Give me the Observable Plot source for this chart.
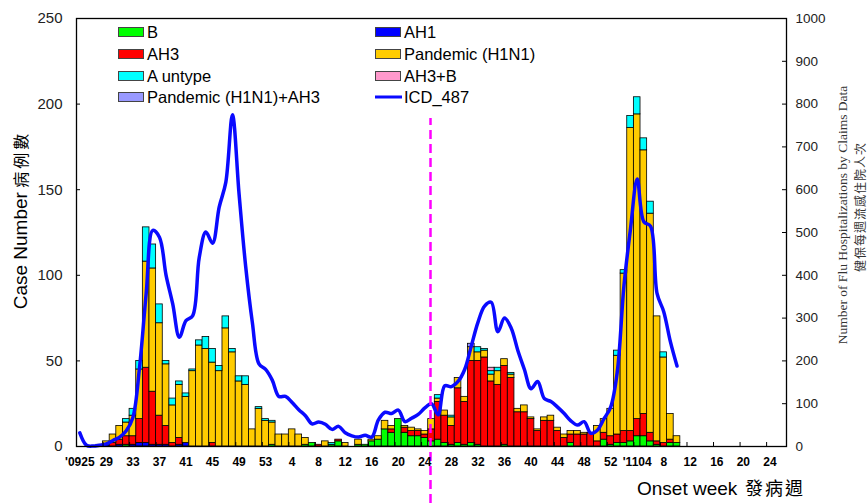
<!DOCTYPE html>
<html><head><meta charset="utf-8">
<script src="https://cdn.jsdelivr.net/npm/d3@7"></script>
<script src="https://cdn.jsdelivr.net/npm/@observablehq/plot@0.6"></script>
<style>
body{margin:0;background:#fff;}
#wrap{position:relative;width:867px;height:503px;overflow:hidden;font-family:"Liberation Sans",Arial,sans-serif;color:#000;}
#wrap svg{position:absolute;left:0;top:0;}
.lg{position:absolute;font-size:16.5px;line-height:16px;white-space:nowrap;transform:translateY(-50%);}
.sw{position:absolute;width:24px;height:8px;border:1px solid #444;transform:translateY(-50%);}
.ln{position:absolute;width:27px;height:3px;background:#0a0aff;transform:translateY(-50%);}
.rot{position:absolute;white-space:nowrap;transform:translate(-50%,-50%) rotate(-90deg);}
.cjk{font-family:"Noto Sans CJK TC","Noto Sans CJK SC",sans-serif;}
</style></head><body><div id="wrap"></div>
<script>
// Week categories (ISO weeks), 2009 w25 .. 2011 w26
const weeks2009 = [25,26,27,28,29,30,31,32,33,34,35,36,37,38,39,40,41,42,43,44,45,46,47,48,49,50,51,52,53];
const weeks2010 = [1,2,3,4,5,6,7,8,9,10,11,12,13,14,15,16,17,18,19,20,21,22,23,24,25,26,27,28,29,30,31,32,33,34,35,36,37,38,39,40,41,42,43,44,45,46,47,48,49,50,51,52];
const weeks2011 = [1,2,3,4,5,6,7,8,9,10,11,12,13,14,15,16,17,18,19,20,21,22,23,24,25,26];

// Tick labels
const tickWeeks = ["2009-25","2009-29","2009-33","2009-37","2009-41","2009-45","2009-49","2009-53","2010-4","2010-8","2010-12","2010-16","2010-20","2010-24","2010-28","2010-32","2010-36","2010-40","2010-44","2010-48","2010-52","2011-4","2011-8","2011-12","2011-16","2011-20","2011-24"];
const tickLabels = ["'0925","29","33","37","41","45","49","53","4","8","12","16","20","24","28","32","36","40","44","48","52","'1104","8","12","16","20","24"];
const leftTicks = [0,50,100,150,200,250];
const rightTicks = [0,100,200,300,400,500,600,700,800,900,1000];

// Series (case numbers per week, starting 2009 w25)
const seriesNames = ["B","AH1","AH3","Pandemic (H1N1)","A untype","AH3+B","Pandemic (H1N1)+AH3"];
const seriesColors = ["#00ff00","#0000ff","#ff0000","#ffcc00","#00ffff","#ff99cc","#9999ff"];
const B = [0,0,0,0,0,0,0,1,0,0, 0,0,0,0,0,0,0,0,0,0, 0,0,0,0,0,0,0,0,0,1, 0,0,0,0,1,2,0,0,1,3, 0,0,1,1,3,4,10,8,16,8, 6,6,5,3,4,2,1,2,1,2, 1,0,0,0,1,0,0,0,0,0, 0,0,0,0,2,0,0,0,0,4, 1,2,2,3,6,6,3,1,0,2,2];
const AH1 = [0,0,0,1,1,0,1,0,1,2, 2,1,1,1,0,1,2,0,0,0, 0,0,0,0,0,0,0,0,0,0, 0,0,0,0,0,0,0,0,0,0, 0,0,0,0,0,0,0,0,0,0, 0,0,0,0,0,0,0,0,0,0, 0,0,0,0,0,0,0,0,0,0, 0,0,0,0,0,0,0,0,0,0, 0,0,0,0,0,0,0,0,0,0,0];
const AH3 = [0,0,0,0,0,2,3,5,5,14, 44,31,17,11,2,4,0,0,0,0, 2,0,0,0,0,0,0,0,0,0, 0,0,0,0,0,0,1,0,0,1, 0,0,0,0,0,0,0,2,0,3, 3,3,2,7,22,16,11,32,25,48, 49,52,38,36,46,40,20,20,16,9, 15,15,9,5,5,7,7,8,3,4, 5,5,7,6,10,13,5,2,2,2,0];
const PAN = [0,0,0,0,2,5,8,8,12,29, 62,72,54,36,22,31,27,44,59,57, 47,44,69,55,38,36,10,22,15,13, 7,7,10,7,4,0,0,3,0,0, 2,0,3,0,1,2,5,2,0,1, 2,1,2,6,2,3,5,6,3,8, 5,4,4,8,4,2,2,4,1,1, 2,3,2,2,2,2,1,0,9,8, 16,46,92,177,178,154,128,73,50,15,4];
const UNT = [0,0,0,0,0,0,0,2,4,5, 20,14,11,2,4,2,2,1,3,7, 8,3,7,2,3,5,0,1,1,1, 0,0,0,0,0,0,0,0,1,0, 0,0,0,0,0,0,0,0,0,0, 0,0,0,0,2,0,1,0,0,0, 3,1,2,2,0,1,0,0,0,0, 0,0,0,0,0,0,0,0,0,0, 0,3,2,7,10,7,7,0,3,0,0];
const AH3B = [0,0,0,0,0,0,0,0,0,0, 0,0,0,0,0,0,0,0,0,0, 0,0,0,0,0,0,0,0,0,0, 0,0,0,0,0,0,0,0,0,0, 0,0,0,0,0,0,0,0,0,0, 0,0,0,0,0,0,0,0,0,0, 0,0,2,0,0,0,0,0,0,0, 0,0,0,0,0,0,0,0,0,0, 0,0,0,0,0,0,0,0,0,0,0];
const PAH3 = [0,0,0,0,0,0,0,0,0,0, 0,0,0,0,0,0,0,0,0,0, 0,0,0,0,0,0,0,0,0,0, 0,0,0,0,0,0,0,0,0,0, 0,0,0,0,0,0,0,0,0,0, 0,0,0,0,0,0,0,0,0,2, 0,0,0,0,0,0,0,0,0,0, 0,0,0,0,0,0,0,0,0,0, 0,0,0,0,0,0,0,0,0,0,0];
// ICD_487 hospitalizations (right axis)
const ICD = [32,3,1,3,6,14,22,37,68,185, 357,505,489,400,333,255,294,305,442,501, 475,559,617,775,590,420,290,193,180,155, 117,117,103,86,72,53,57,52,40,47, 32,25,22,26,22,62,80,77,85,58, 66,75,90,100,74,142,140,152,180,235, 290,328,337,268,300,277,225,180,135,152, 112,105,92,77,60,50,58,31,38,65, 92,175,375,510,625,525,515,357,315,245,188];
const dividerWeek = "2010-25";

const keys = [...weeks2009.map(w=>"2009-"+w), ...weeks2010.map(w=>"2010-"+w), ...weeks2011.map(w=>"2011-"+w)];
const seriesValues = [B, AH1, AH3, PAN, UNT, AH3B, PAH3];
const rows = [];
seriesValues.forEach((arr, s) => arr.forEach((v, i) => { if (v > 0) rows.push({week: keys[i], series: seriesNames[s], value: v}); }));
const icdRows = ICD.map((v, i) => ({week: keys[i], v}));

const plot = Plot.plot({
  width: 867, height: 503,
  marginLeft: 76, marginRight: 81, marginTop: 18, marginBottom: 57,
  style: {fontFamily: "Liberation Sans, Arial, sans-serif", background: "transparent", color: "#000", overflow: "visible"},
  x: {type: "band", domain: keys, paddingInner: 0, paddingOuter: 0},
  y: {domain: [0, 250]},
  color: {domain: seriesNames, range: seriesColors},
  marks: [
    Plot.barY(rows, {x: "week", y: "value", fill: "series", order: seriesNames, stroke: "#000", strokeWidth: 0.8}),
    Plot.line(icdRows, {x: "week", y: d => d.v / 4, stroke: "#0a0aff", strokeWidth: 3.5, curve: "catmull-rom"}),
    Plot.ruleX([dividerWeek], {x: d => d, y1: -33.3, y2: 191.6, stroke: "#ff00ff", strokeWidth: 2.5, strokeDasharray: "9,5", dx: -1}),
    Plot.frame({stroke: "#000", strokeWidth: 1.3}),
    Plot.tickY(leftTicks, {y: d => d, insetRight: 706, stroke: "#000"}),
    Plot.tickY(rightTicks, {y: d => d / 4, insetLeft: 706, stroke: "#000"}),
    Plot.tickX(tickWeeks, {x: d => d, insetTop: 424, dx: -3.3, stroke: "#000"}),
    Plot.axisX({ticks: tickWeeks, tickFormat: k => tickLabels[tickWeeks.indexOf(k)], tickSize: 0, tickPadding: 11, fontSize: 12, fontWeight: "bold", label: null}),
    Plot.axisY({anchor: "left", ticks: leftTicks, tickSize: 0, tickPadding: 14, fontSize: 15, label: null, fill: "#222"}),
    Plot.axisY({anchor: "right", ticks: rightTicks.map(d => d / 4), tickFormat: d => String(Math.round(d * 4)), tickSize: 0, tickPadding: 9, fontSize: 13.5, label: null, fill: "#222"})
  ]
});
const wrap = document.getElementById("wrap");
wrap.appendChild(plot);

// Legend
const legendItems = [
  {name: "B", col: 0, row: 0}, {name: "AH1", col: 1, row: 0},
  {name: "AH3", col: 0, row: 1}, {name: "Pandemic (H1N1)", col: 1, row: 1},
  {name: "A untype", col: 0, row: 2}, {name: "AH3+B", col: 1, row: 2},
  {name: "Pandemic (H1N1)+AH3", col: 0, row: 3}, {name: "ICD_487", col: 1, row: 3, line: true}
];
const colX = [118, 375], rowY = [32, 54, 76, 97];
legendItems.forEach(it => {
  const sw = document.createElement("div");
  if (it.line) { sw.className = "ln"; sw.style.left = colX[it.col] + "px"; }
  else { sw.className = "sw"; sw.style.left = colX[it.col] + "px"; sw.style.background = seriesColors[seriesNames.indexOf(it.name)]; }
  sw.style.top = rowY[it.row] + "px";
  wrap.appendChild(sw);
  const t = document.createElement("div");
  t.className = "lg"; t.textContent = it.name;
  t.style.left = (colX[it.col] + 29) + "px"; t.style.top = rowY[it.row] + "px";
  wrap.appendChild(t);
});

function addText(html, css, cls) {
  const d = document.createElement("div");
  d.className = cls || ""; d.innerHTML = html;
  Object.assign(d.style, css);
  wrap.appendChild(d);
}
addText('<span style="font-size:19px">Case Number</span> <span class="cjk" style="font-size:16px;letter-spacing:3px">病例數</span>', {left: "20px", top: "220px"}, "rot");
addText('Number of Flu Hospitalizations by Claims Data', {left: "843px", top: "215px", fontFamily: "Liberation Serif, serif", fontSize: "13.5px", color: "#333"}, "rot");
addText('健保每週流感住院人次', {left: "859px", top: "207px", fontSize: "12px", color: "#333", letterSpacing: "1px"}, "rot cjk");
addText('Onset week', {left: "637px", top: "478px", fontSize: "19px", lineHeight: "22px", position: "absolute", whiteSpace: "nowrap"});
addText('發病週', {left: "745px", top: "476px", fontSize: "18px", lineHeight: "22px", position: "absolute", whiteSpace: "nowrap", letterSpacing: "2px"}, "cjk");
</script></body></html>
